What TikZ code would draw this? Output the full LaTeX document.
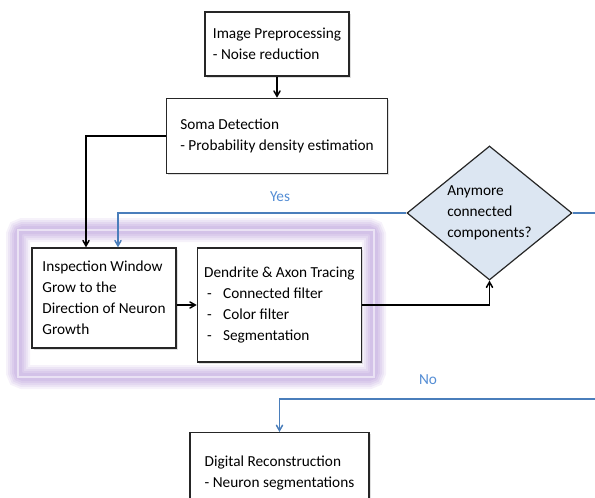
\documentclass[tikz,border=0pt]{standalone}
\usepackage{fontspec}
\setmainfont{Carlito}
\usetikzlibrary{positioning}
\usetikzlibrary{arrows}
\usetikzlibrary{shapes.geometric}
\usetikzlibrary{shadows}

\definecolor{glow}{RGB}{180,150,215}
\definecolor{rim}{RGB}{240,234,248}
\definecolor{askfill}{RGB}{220,230,242}
\definecolor{yesno}{RGB}{74,126,187}
\definecolor{yesnotext}{RGB}{84,141,212}

\tikzset{
  stepbox/.style={draw=black!85, line width=1.4pt, fill=white, align=left,
    drop shadow={shadow xshift=1.5pt, shadow yshift=-1.5pt, opacity=0.25}},
  askbox/.style={diamond, aspect=1.23, inner sep=0pt, draw=black!85, line width=1.2pt,
    fill=askfill, align=left},
  flow/.style={black, line width=1.5pt},
  loopback/.style={yesno, line width=1.5pt},
  tag/.style={text=yesnotext}
}
\newcommand{\dashitem}[1]{\makebox[19pt][l]{\hspace*{3pt}-}#1}

\begin{document}
\begin{tikzpicture}[x=1pt,y=-1pt,>=angle 60,font=\fontsize{15.3}{21}\selectfont]
    \useasboundingbox (0,0) rectangle (595,498);
    \clip (0,0) rectangle (595,498);
    % glowing frame round the tracing loop
    \foreach \w/\o in {24/0.12, 20/0.14, 16/0.16, 12/0.18, 8/0.2}
        \draw [glow, line width=\w pt, opacity=\o, rounded corners=5pt] (18,230) rectangle (374,377);
    \draw [rim, line width=1.6pt, opacity=0.8] (18,230) rectangle (374,377);

    \node (pre) [stepbox, minimum width=144, minimum height=64] at (277,44) {Image Preprocessing\\- Noise reduction};
    \node (soma) [stepbox, minimum width=221, minimum height=75, below=21pt of pre] {Soma Detection\\- Probability density estimation};
    \node (insp) [stepbox, minimum width=144, minimum height=100] at (104,298) {Inspection Window\\Grow to the\\Direction of Neuron\\Growth};
    \node (dend) [stepbox, minimum width=164, minimum height=114, anchor=north west] at ([xshift=20pt]insp.north east)
        {Dendrite \& Axon Tracing\\\dashitem{Connected filter}\\\dashitem{Color filter}\\\dashitem{Segmentation}};
    \node (ask) [askbox, minimum width=165, minimum height=134] at (489.5,213) {Anymore\\connected\\components?};
    \node (digi) [stepbox, minimum width=179, minimum height=80, anchor=north] at (279.5,432) {Digital Reconstruction\\- Neuron segmentations};

    \node (yes) [tag] at (280,197) {Yes};
    \node (no) [tag] at (428,380) {No};

    \coordinate (inA) at ([xshift=-18pt]insp.north);
    \coordinate (inB) at ([xshift=14pt]insp.north);
    \coordinate (bend) at (612,399);

    \draw [flow,->] (pre.south) -- (pre.south |- soma.north);
    \draw [flow,->] (soma.west) -| (inA);
    \draw [flow,->] (dend.west -| insp.east) -- (dend.west);
    \draw [flow,->] (dend.east) -| (ask.south);
    \draw [loopback,->] (ask.west) -| (inB);
    \draw [loopback,->] (ask.east) -| (bend) -| (digi.north);
\end{tikzpicture}
\end{document}
